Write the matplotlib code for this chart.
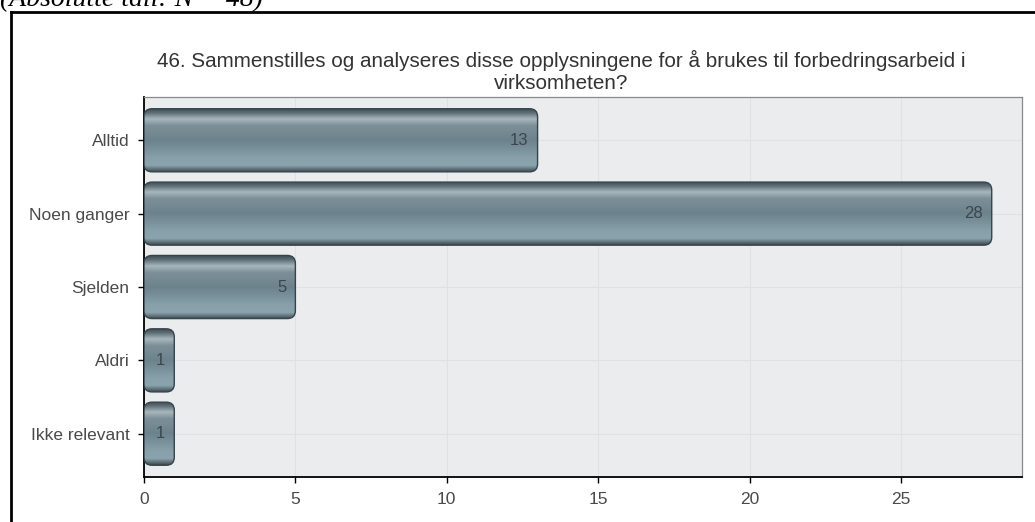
import numpy as np
import matplotlib
matplotlib.use("Agg")
import matplotlib.pyplot as plt
from matplotlib.patches import FancyBboxPatch
from matplotlib.colors import LinearSegmentedColormap
from matplotlib.lines import Line2D

categories = ["Alltid", "Noen ganger", "Sjelden", "Aldri", "Ikke relevant"]
counts = [13, 28, 5, 1, 1]
x_ticks = [0, 5, 10, 15, 20, 25]
title = ("46. Sammenstilles og analyseres disse opplysningene for å brukes til forbedringsarbeid i\n"
         "virksomheten?")
header = "(Absolutte tall: N = 48)"

plt.rcParams["font.family"] = ["Liberation Sans", "DejaVu Sans"]

W, H = 1035, 522
fig = plt.figure(figsize=(W / 100, H / 100), dpi=100)
fig.patch.set_facecolor("white")

ax = fig.add_axes([144 / W, 1 - 477 / H, (1022 - 144) / W, (477 - 97) / H])
ax.set_facecolor("#eaecee")

ypos = np.arange(len(categories))
bar_h = 0.86
bars = ax.barh(ypos, counts, height=bar_h, color="none", edgecolor="none", zorder=2)

# vertical shading of the bar body (top -> bottom)
shade = LinearSegmentedColormap.from_list("barshade", [
    (0.00, "#3c494f"),
    (0.07, "#5a6c74"),
    (0.17, "#a9b7bd"),
    (0.27, "#7d9099"),
    (0.50, "#6c828c"),
    (0.78, "#87a0aa"),
    (0.90, "#8aa3ad"),
    (1.00, "#3c494f"),
])
grad = np.linspace(0, 1, 256).reshape(-1, 1)
grad = np.repeat(grad, 2, axis=1)

xmax, ymin, ymax = 29.0, -0.59, len(categories) - 1 + 0.59
px_per_x = (1022 - 144) / xmax
px_per_y = (477 - 97) / (ymax - ymin)
aspect = px_per_x / px_per_y
radius_x = 8 / px_per_x

for rect, val in zip(bars.patches, counts):
    x0, y0, w, h = rect.get_x(), rect.get_y(), rect.get_width(), rect.get_height()
    patch = FancyBboxPatch((x0, y0), w, h,
                           boxstyle=f"round,pad=0,rounding_size={radius_x}",
                           mutation_aspect=aspect,
                           facecolor="none", edgecolor="#36434a", lw=1.0, zorder=4)
    ax.add_patch(patch)
    im = ax.imshow(grad, cmap=shade, extent=(x0, x0 + w, y0 + h, y0),
                   origin="upper", aspect="auto", zorder=3, interpolation="bilinear")
    im.set_clip_path(patch)
    ax.annotate(str(val), xy=(x0 + w, y0 + h / 2), xytext=(-6.5, 0),
                textcoords="offset points", ha="right", va="center",
                fontsize=12, color="#3a474e", zorder=5)

ax.set_xlim(0, xmax)
ax.set_ylim(ymax, ymin)
ax.set_yticks(ypos)
ax.set_yticklabels(categories)
ax.set_xticks(x_ticks)
ax.tick_params(axis="both", labelsize=12.5, labelcolor="#4a4a4a", color="black",
               length=4.5, width=1, direction="out")
ax.tick_params(axis="y", pad=6)
ax.tick_params(axis="x", pad=6)

ax.grid(True, color="#dfe1e3", lw=0.8, zorder=0)
ax.set_axisbelow(True)
for side in ["left", "bottom"]:
    ax.spines[side].set_color("black")
    ax.spines[side].set_linewidth(1.3)
for side in ["top", "right"]:
    ax.spines[side].set_color("#8a8a8a")
    ax.spines[side].set_linewidth(0.9)

fig.text(561 / W, 1 - 71.5 / H, title, ha="center", va="center",
         fontsize=14.9, color="#333333", linespacing=1.25, multialignment="center")

# outer frame (top and left edges fall inside the canvas)
fig.add_artist(Line2D([11 / W, 1.02], [1 - 12 / H, 1 - 12 / H], transform=fig.transFigure,
                      color="black", lw=2))
fig.add_artist(Line2D([11 / W, 11 / W], [-0.02, 1 - 12 / H], transform=fig.transFigure,
                      color="black", lw=2))

fig.text(0 / W, 1 - 6 / H, header, ha="left", va="baseline", fontsize=20,
         style="italic", family=["Liberation Serif", "DejaVu Serif"], color="black")

fig.savefig("out.png", dpi=100, facecolor="white")
